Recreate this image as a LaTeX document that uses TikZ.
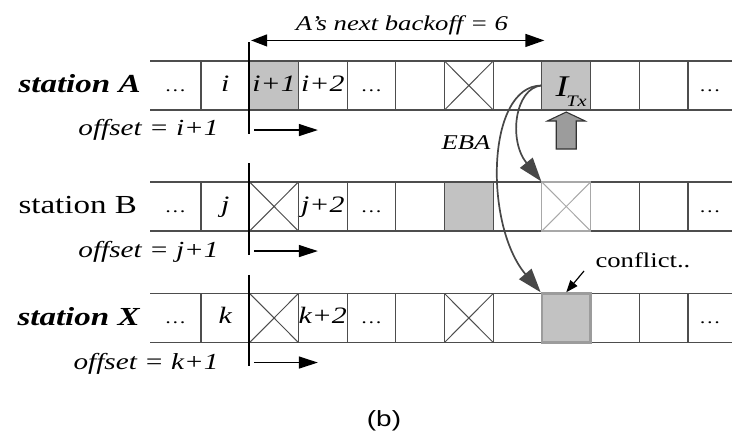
\documentclass[tikz,border=0pt]{standalone}
\usepackage{fontspec}
\setmainfont{Liberation Serif}[FakeStretch=1.27]
\newfontfamily\capsans{Liberation Sans}[FakeStretch=1.27]
\usetikzlibrary{arrows.meta,calc}
\definecolor{linegray}{HTML}{4D4D4D}
\definecolor{cellgray}{HTML}{C2C2C2}
\definecolor{arrowgray}{HTML}{474747}
\definecolor{blockgray}{HTML}{9C9C9C}
\definecolor{lightline}{HTML}{A8A8A8}
\newcommand\fs[1]{\fontsize{#1}{#1}\selectfont}
\newcommand\dts{{\upshape\fs{17}…}}
\newcommand\itx{\kern10pt\raisebox{-5.5pt}{{\fs{30}I}\kern-2pt\raisebox{-10pt}{\fs{16}Tx}}}
\newcommand\cx[1]{176.65+48.7*#1}

\begin{document}
\begin{tikzpicture}[x=1pt,y=-1pt,
 cell/.style={minimum width=48.7pt,minimum height=49pt,inner sep=0pt,draw=linegray,line width=1.1pt,font=\fs{23.5}\itshape,text height=15pt,text depth=3pt},
 bare/.style={cell,draw=none},
 graycell/.style={cell,fill=cellgray},
 xcell/.style={cell,path picture={\draw[linegray,line width=1pt] (path picture bounding box.north west) -- (path picture bounding box.south east) (path picture bounding box.north east) -- (path picture bounding box.south west);}},
 lightxcell/.style={cell,draw=lightline,path picture={\draw[lightline,line width=1pt] (path picture bounding box.north west) -- (path picture bounding box.south east) (path picture bounding box.north east) -- (path picture bounding box.south west);}},
 hitcell/.style={cell,fill=cellgray,draw=blockgray,line width=2.4pt},
 rowline/.style={linegray,line width=1.2pt},
 divider/.style={black,line width=2.4pt},
 offarrow/.style={black,line width=1.3pt,-{Triangle[length=19pt,width=12pt]}},
 spanarrow/.style={black,line width=1.4pt,{Triangle[length=16pt,width=12pt]}-{Triangle[length=19pt,width=13pt]}},
 ebaarrow/.style={arrowgray,line width=1.7pt,-{Triangle[length=24pt,width=16pt]}},
 smallarrow/.style={black,line width=1.2pt,-{Triangle[length=12pt,width=9pt]}},
 blockarrow/.style={draw=black!80,fill=blockgray,line width=1.1pt,line join=miter},
 station/.style={anchor=base west,font=\fs{26}},
 offlabel/.style={anchor=base east,font=\fs{23}\itshape},
]
\useasboundingbox (0,0) rectangle (732,438);

% row lines
\foreach \y in {85.5,206.5,318}
  \draw[rowline] (150,{\y-24.5}) -- (732,{\y-24.5}) (150,{\y+24.5}) -- (732,{\y+24.5});

% outer dots
\foreach \r/\y in {A/85.5,B/206.5,X/318}{
  \node[bare] (\r0) at (175.5,\y) {\dts};
  \node[bare] (\r11) at (710,\y) {\dts};
}

% row A
\foreach \c/\t in {1/i,3/i+2,4/\dts,5/{},7/{},9/{},10/{}}
  \node[cell] (A\c) at ({\cx{\c}},85.5) {\t};
\node[graycell] (A2) at ({\cx{2}},85.5) {i+1};
\node[xcell] (A6) at ({\cx{6}},85.5) {};
\node[graycell] (A8) at ({\cx{8}},85.5) {\itx};

% row B
\foreach \c/\t in {1/j,3/j+2,4/\dts,5/{},7/{},9/{},10/{}}
  \node[cell] (B\c) at ({\cx{\c}},206.5) {\t};
\node[xcell] (B2) at ({\cx{2}},206.5) {};
\node[graycell] (B6) at ({\cx{6}},206.5) {};
\node[lightxcell] (B8) at ({\cx{8}},206.5) {};

% row X
\foreach \c/\t in {1/k,3/k+2,4/\dts,5/{},7/{},9/{},10/{}}
  \node[cell] (X\c) at ({\cx{\c}},318) {\t};
\node[xcell] (X2) at ({\cx{2}},318) {};
\node[xcell] (X6) at ({\cx{6}},318) {};
\node[hitcell] (X8) at ({\cx{8}},318) {};

% dividers and offset arrows
\foreach \r in {A,B,X}{
  \draw[divider] ($(\r2.north west)+(0,-18)$) -- ($(\r2.south west)+(0,23)$);
  \draw[offarrow] ($(\r2.south west)+(5,19.5)$) -- ($(\r3.south west)+(20,19.5)$);
}

% station labels
\node[station,font=\fs{26}\bfseries\itshape] (sA) at (15,93) {station A};
\node[station] (sB) at (15,214) {station B};
\node[station,font=\fs{26}\bfseries\itshape] (sX) at (14,325.5) {station X};

% offset labels
\node[offlabel] (oA) at (222,136) {offset = i+1};
\node[offlabel] (oB) at (222,258) {offset = j+1};
\node[offlabel] (oX) at (222,370) {offset = k+1};

% backoff span
\draw[spanarrow] ($(A2.north west)+(2,-20)$) -- ($(A8.north west)+(3,-20)$);
\node[font=\fs{21}\itshape] (bk) at (402,25) {A’s next backoff = 6};

% block arrow under I_Tx
\draw[blockarrow] ($(A8.south)+(0,1.5)$) -- ++(19,9) -- ++(-9,0) -- ++(0,28) -- ++(-20,0) -- ++(0,-28) -- ++(-9,0) -- cycle;

% EBA arrows
\draw[ebaarrow] (A8.west) .. controls (515,88) and (508,140) .. (B8.north west);
\draw[ebaarrow] (A8.west) .. controls (486,86) and (484,225) .. (X8.north west);
\node[font=\fs{21}\itshape] (eba) at (466,143) {EBA};

% conflict
\node[anchor=base west,font=\fs{21}] (conf) at (592,268) {conflict..};
\coordinate (cs) at (584,271);
\draw[smallarrow] (cs) -- (X8.north);

% caption
\node[font=\capsans\fs{22}] (cap) at (384,421) {(b)};
\end{tikzpicture}
\end{document}
